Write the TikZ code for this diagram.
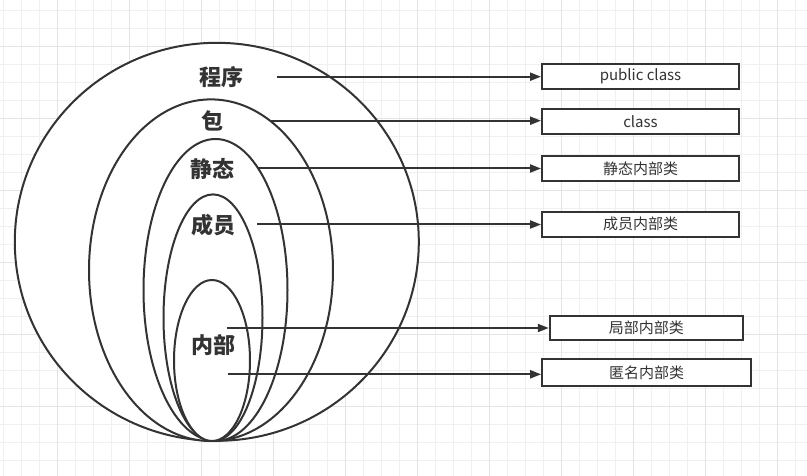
\documentclass[tikz,border=0pt]{standalone}
\usepackage{fontspec}
\setmainfont{Noto Sans CJK SC}
\newfontfamily\cjk{Noto Sans CJK SC}
\usetikzlibrary{arrows.meta}
\definecolor{ink}{HTML}{333333}
\definecolor{gridminor}{HTML}{F0F0F0}
\definecolor{gridmajor}{HTML}{E4E4E4}
\tikzset{
  ring/.style={draw=ink, line width=2pt, fill=white},
  lvl/.style={font=\cjk\bfseries\fontsize{22}{24}\selectfont, text=ink, inner sep=0pt},
  kindbox/.style={draw=ink, line width=2pt, fill=white, inner sep=0pt,
    font=\cjk\fontsize{15}{17}\selectfont, text=ink},
  link/.style={draw=ink, line width=2pt, -{Triangle[length=11pt,width=8pt]}},
}
\begin{document}
\begin{tikzpicture}[x=1pt,y=-1pt]
\useasboundingbox (0,0) rectangle (807,476);
\fill[white] (0,0) rectangle (807,476);
% grid
\foreach \i in {0,...,44} {\draw[gridminor, line width=0.8pt] (3.3+18*\i,0) -- (3.3+18*\i,476);}
\foreach \j in {0,...,26} {\draw[gridminor, line width=0.8pt] (0,10+18*\j) -- (807,10+18*\j);}
\foreach \i in {0,...,10} {\draw[gridmajor, line width=0.8pt] (57.3+72*\i,0) -- (57.3+72*\i,476);}
\foreach \j in {0,...,6} {\draw[gridmajor, line width=0.8pt] (0,46+72*\j) -- (807,46+72*\j);}
% nested ellipses
\draw[ring] (216.8,241.8) ellipse [x radius=202, y radius=199];
\draw[ring] (211,270.2) ellipse [x radius=122, y radius=170.8];
\draw[ring] (215.5,290) ellipse [x radius=72, y radius=151];
\draw[ring] (213,317.7) ellipse [x radius=49.5, y radius=123.3];
\draw[ring] (212,360.5) ellipse [x radius=38, y radius=80.5];
% labels
\node[lvl] (lprog) at (221,77.5) {程序};
\node[lvl] (lpkg) at (212.8,121.3) {包};
\node[lvl] (lstat) at (212.8,168.7) {静态};
\node[lvl] (lmem) at (213,225) {成员};
\node[lvl] (linner) at (213,344.7) {内部};
% arrow starts
\coordinate (sprog) at (276.7,76.7);
\coordinate (spkg) at (271,120.7);
\coordinate (sstat) at (256.7,168.5);
\coordinate (smem) at (257.3,224.5);
\coordinate (sloc) at (226.7,328);
\coordinate (sanon) at (227.7,374.3);
% boxes
\node[kindbox, minimum width=197pt, minimum height=25pt] (bpub) at (640.5,76.5) {public class};
\node[kindbox, minimum width=197pt, minimum height=25pt] (bcls) at (640.5,121.5) {class};
\node[kindbox, minimum width=197pt, minimum height=25pt] (bstat) at (640.5,168.3) {静态内部类};
\node[kindbox, minimum width=197pt, minimum height=25pt] (bmem) at (640.5,224.2) {成员内部类};
\node[kindbox, minimum width=193pt, minimum height=24.5pt] (bloc) at (646.3,327.9) {局部内部类};
\node[kindbox, minimum width=209pt, minimum height=26.5pt] (banon) at (646.7,372.4) {匿名内部类};
% connectors
\draw[link] (sprog) -- (sprog -| bpub.west);
\draw[link] (spkg) -- (spkg -| bcls.west);
\draw[link] (sstat) -- (sstat -| bstat.west);
\draw[link] (smem) -- (smem -| bmem.west);
\draw[link] (sloc) -- (sloc -| bloc.west);
\draw[link] (sanon) -- (sanon -| banon.west);
\end{tikzpicture}
\end{document}
